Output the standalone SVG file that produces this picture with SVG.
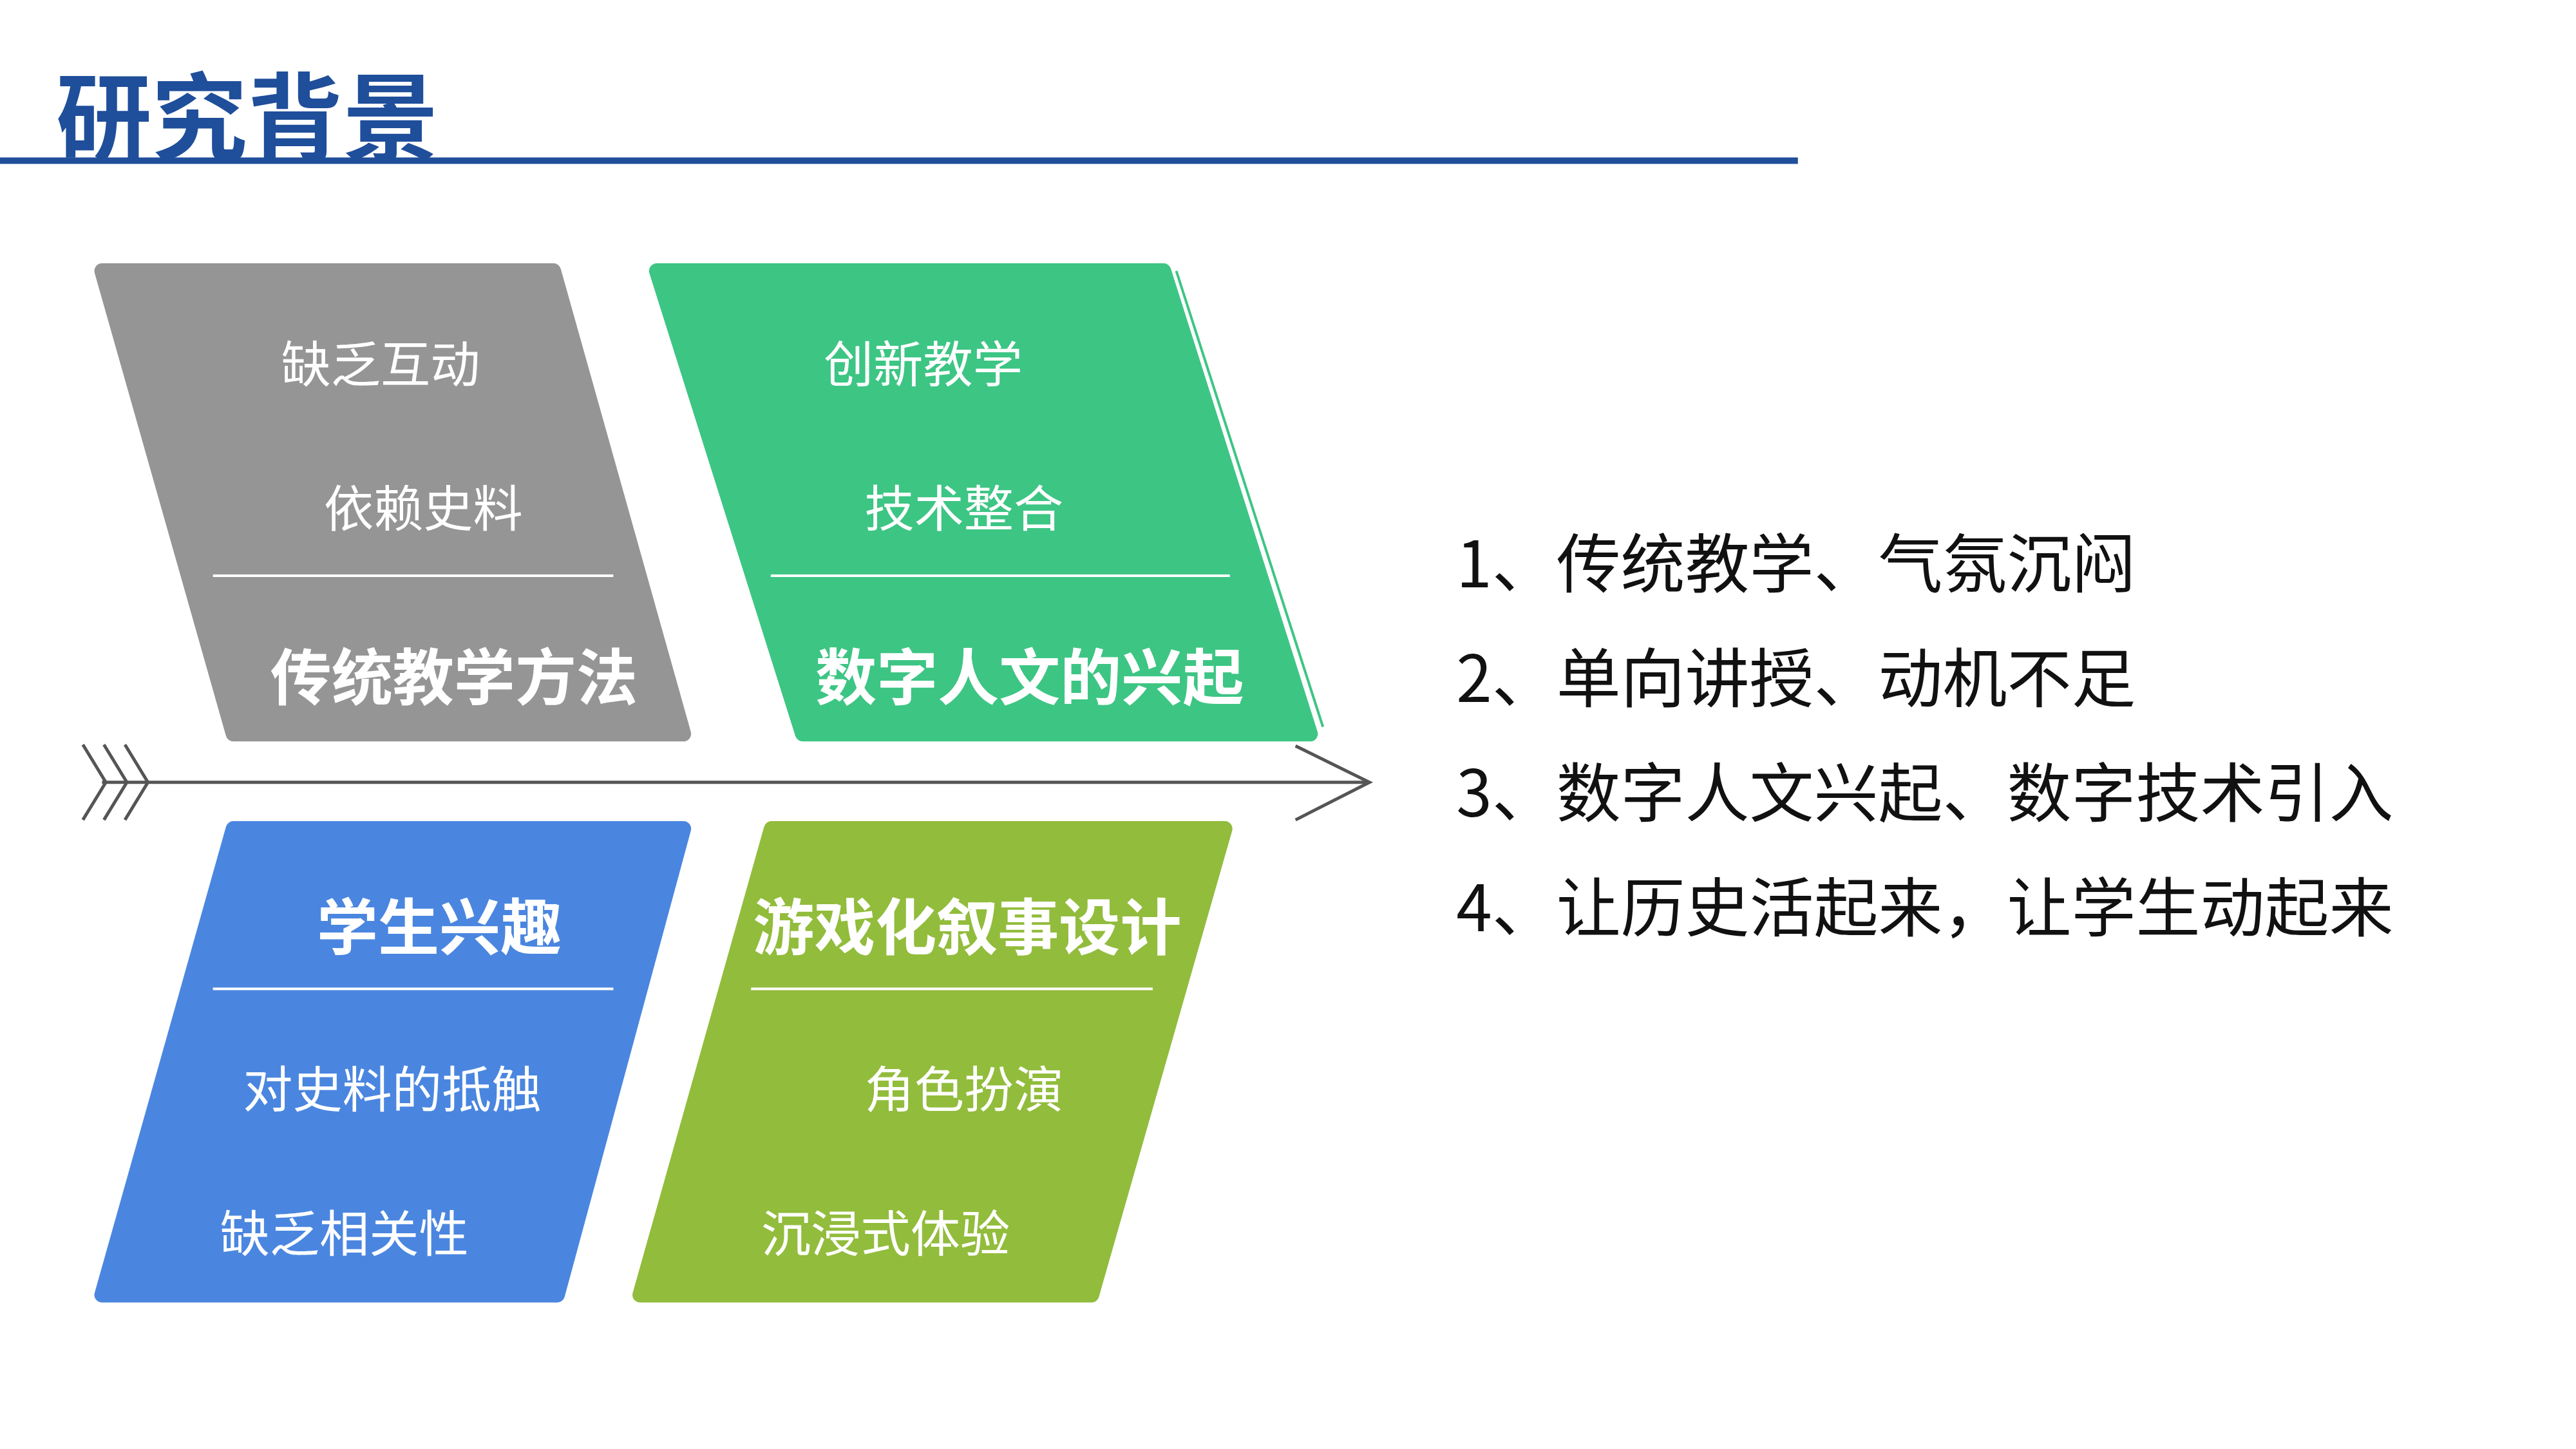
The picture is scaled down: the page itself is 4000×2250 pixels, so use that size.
<svg xmlns="http://www.w3.org/2000/svg" width="4000" height="2250" viewBox="0 0 4000 2250">
<style>
.s{font-family:"Noto Sans CJK SC","Noto Sans",sans-serif;font-size:78px;fill:#fff;text-anchor:middle}
.b{font-family:"Noto Sans CJK SC","Noto Sans",sans-serif;font-size:96px;font-weight:bold;fill:#fff;text-anchor:middle}
.l{font-family:"Noto Sans CJK SC","Noto Sans",sans-serif;font-size:101px;fill:#111}
.sep{stroke:#fff;stroke-width:4}
.ax{fill:none;stroke:#555;stroke-width:5}
</style>
<rect width="4000" height="2250" fill="#fff"/>
<g transform="scale(0.99)">
<g id="title">
<text x="88" y="240" font-family="Noto Sans CJK SC,sans-serif" font-size="150" font-weight="bold" fill="#1F4E9A">研究背景</text>
<line x1="0" y1="252" x2="2820" y2="252" stroke="#1F4E9A" stroke-width="10"/>
</g>
<g id="n1">
<path d="M160,425 L868,425 L1072,1151 L366,1151 Z" fill="#959595" stroke="#959595" stroke-width="24" stroke-linejoin="round"/>
<text class="s" x="597" y="600">缺乏互动</text>
<text class="s" x="664" y="826">依赖史料</text>
<line class="sep" x1="334" y1="903" x2="962" y2="903"/>
<text class="b" x="712" y="1098">传统教学方法</text>
</g>
<g id="n2">
<path d="M1030,425 L1825,425 L2055,1151 L1259,1151 Z" fill="#3DC584" stroke="#3DC584" stroke-width="24" stroke-linejoin="round"/>
<line x1="1845" y1="425" x2="2075" y2="1140" stroke="#3DC584" stroke-width="4"/>
<text class="s" x="1448" y="600">创新教学</text>
<text class="s" x="1512" y="826">技术整合</text>
<line class="sep" x1="1209" y1="903" x2="1929" y2="903"/>
<text class="b" x="1615" y="1098">数字人文的兴起</text>
</g>
<g id="n3">
<path d="M366,1300 L1072,1300 L874,2031 L160,2031 Z" fill="#4A86E0" stroke="#4A86E0" stroke-width="24" stroke-linejoin="round"/>
<text class="b" x="689" y="1490">学生兴趣</text>
<line class="sep" x1="334" y1="1551" x2="962" y2="1551"/>
<text class="s" x="615" y="1737">对史料的抵触</text>
<text class="s" x="540" y="1964">缺乏相关性</text>
</g>
<g id="n4">
<path d="M1210,1300 L1921,1300 L1712,2031 L1004,2031 Z" fill="#92BC3C" stroke="#92BC3C" stroke-width="24" stroke-linejoin="round"/>
<text class="b" x="1517" y="1490">游戏化叙事设计</text>
<line class="sep" x1="1178" y1="1551" x2="1808" y2="1551"/>
<text class="s" x="1512" y="1737">角色扮演</text>
<text class="s" x="1389" y="1964">沉浸式体验</text>
</g>
<g id="connectors">
<line class="ax" x1="160" y1="1227" x2="2148" y2="1227"/>
<polyline class="ax" points="2032,1170 2148,1227 2032,1286"/>
<polyline class="ax" points="130,1168 166,1227 130,1286"/>
<polyline class="ax" points="163,1168 199,1227 163,1286"/>
<polyline class="ax" points="196,1168 232,1227 196,1286"/>
</g>
<g id="list">
<text class="l" x="2284" y="921">1、传统教学、气氛沉闷</text>
<text class="l" x="2284" y="1101">2、单向讲授、动机不足</text>
<text class="l" x="2284" y="1281">3、数字人文兴起、数字技术引入</text>
<text class="l" x="2284" y="1461">4、让历史活起来，让学生动起来</text>
</g>
</g>
</svg>
